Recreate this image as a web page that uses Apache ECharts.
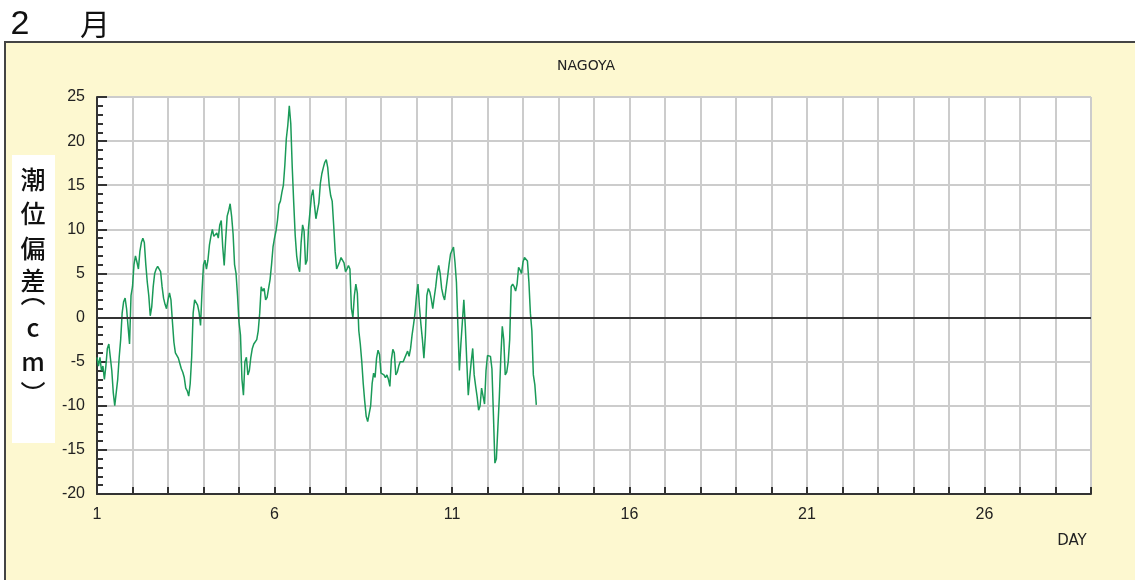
<!DOCTYPE html>
<html><head><meta charset="utf-8">
<script src="https://cdn.jsdelivr.net/npm/echarts@6/dist/echarts.min.js"></script>
<style>html,body{margin:0;padding:0;background:#fff;}#c{width:1135px;height:580px;}</style>
</head><body><div id="c"></div>
<script>
// Hourly tide deviation (cm), NAGOYA, February, starting day 1 00:00
const day01 = [-4.5,-5.5,-4.5,-6,-5.5,-7,-5.5,-3.5,-3,-4.5,-6,-8.5,-10,-8.5,-7,-4.5,-2.5,0.5,1.8,2.2,1,-1,-3,2.5];
const day02 = [3.5,6,7,6.3,5.5,7.5,8.5,9,8.5,6,4,2.5,0.2,1.2,3.5,5,5.5,5.8,5.8,5.2,3.5,2.2,1.5,1];
const day03 = [2,2.8,2,-0.5,-2.8,-4,-4.2,-4.6,-5.2,-5.8,-6.2,-6.8,-8,-8.3,-8.9,-7.5,-4.5,0.5,2,2,1.4,0.6,-0.9,3];
const day04 = [6,6.5,5.5,6.5,8.2,9.2,10,9.2,9.3,9.6,9,10.5,11,8,5.9,8.9,11.5,12.1,12.9,11.5,9.5,6,5,2.5];
const day05 = [-0.5,-2,-7,-8.8,-5,-4.5,-6.5,-6,-4.5,-3.5,-3,-3,-2.5,-1.5,0.5,3.5,3,3.3,2,2.3,3.3,4.3,6,8];
const day06 = [9,9.8,11,12.8,13.2,14.2,15,17.3,20.3,21.8,24,22,17,13,9.3,7,5.8,5.2,8.5,10.5,9.8,6,6.5,10.2];
const day07 = [12,13.8,14.5,12.8,11.2,11.2,13,15.2,16.3,17,17.6,17.9,17,15,13.8,13.2,10.5,7.5,5.5,5.9,6.3,6.8,7,6.2];
const day08 = [5.2,5.5,5.9,5.5,1,0,2.5,3.8,2.8,-1.5,-3,-5,-7.5,-9.5,-11.2,-11.8,-12,-10,-7.5,-6.3,-6.8,-4.6,-3.7,-4.2];
const day09 = [-6.3,-6.2,-6.5,-6.8,-6.5,-7,-7.8,-4.8,-3.6,-4,-6.5,-6.2,-5.5,-5,-5,-5,-4.6,-4.6,-3.8,-4.4,-3.5,-2,-0.8,0.5];
const day10 = [2.5,3.8,1.2,-0.8,-2.5,-4.6,-2,2.5,3.3,2.9,2.1,1,2.3,3.5,5,5.9,5,3.3,2.5,2,3.3,4.6,6,7.2];
const day11 = [7.6,8,6.3,4,-1,-6,-3,-0.5,2,-1,-5,-8.8,-6.8,-5,-3.5,-6.5,-7.8,-9,-10.5,-10,-8,-8,-9.8,-6];
const day12 = [-4.3,-4.2,-4.4,-5.8,-11,-16.5,-16,-12.5,-9,-4.5,-1,-2.5,-6.5,-6.2,-5,-2.5,3.5,3.8,3.5,3,3.8,5.7,5.4,5];
const day13 = [6.3,6.8,6.8,6.4,4,0.5,-1.5,-6.5,-7.6,-9.9];

const days = [day01,day02,day03,day04,day05,day06,day07,day08,day09,day10,day11,day12,day13];
const xLabelDays = [1,6,11,16,21,26];
const yTicks = [-20,-15,-10,-5,0,5,10,15,20,25];
const monthTitle = ['2','月'];
const yTitleChars = ['潮','位','偏','差','︵','c','m','︶'];
const stationName = 'NAGOYA';
const xUnit = 'DAY';

const seriesData = [];
days.forEach((arr, d) => arr.forEach((v, h) => seriesData.push([1 + d + h / 24, v])));

const chart = echarts.init(document.getElementById('c'));
const font = 'Liberation Sans, Arial, sans-serif';
const yCharPos = [179, 213, 248, 280, 293, 327, 361, 393];
const graphics = [
  {type:'rect', z:-10, shape:{x:5,y:42,width:1140,height:560}, style:{fill:'#fdf8d0', stroke:'#444', lineWidth:2}},
  {type:'text', x:20, y:25, style:{text:monthTitle[0], font:'34px ' + font, fill:'#111', align:'center', verticalAlign:'middle'}},
  {type:'text', x:95, y:24, style:{text:monthTitle[1], font:'30px "Noto Sans CJK JP", sans-serif', fill:'#111', align:'center', verticalAlign:'middle'}},
  {type:'rect', z:-5, shape:{x:12,y:155,width:43,height:288}, style:{fill:'#fff'}},
  {type:'text', x:586, y:66, style:{text:stationName, font:'14px DejaVu Sans, sans-serif', fill:'#222', align:'center', verticalAlign:'middle'}},
  {type:'text', x:1072, y:541, style:{text:xUnit, font:'15px DejaVu Sans, sans-serif', fill:'#222', align:'center', verticalAlign:'middle'}}
];
yTitleChars.forEach((ch, i) => {
  graphics.push({type:'text', x:33, y:yCharPos[i], style:{text:ch, font:'500 25px "Noto Sans CJK JP", sans-serif', fill:'#111', align:'center', verticalAlign:'middle'}});
});

chart.setOption({
  animation:false,
  backgroundColor:'#fff',
  graphic: graphics,
  grid:{left:97, top:97, right:44, bottom:86, show:true, backgroundColor:'#fff', borderWidth:0},
  xAxis:{
    type:'value', min:1, max:29, interval:1,
    axisLine:{show:true, onZero:false, lineStyle:{color:'#333', width:2}},
    axisTick:{show:true, inside:true, length:7, lineStyle:{color:'#333', width:2}},
    axisLabel:{formatter:v => xLabelDays.includes(v) ? String(v) : '', color:'#222', fontSize:16, fontFamily:font, margin:13, showMaxLabel:true},
    splitLine:{show:true, lineStyle:{color:'#cccccc', width:2}}
  },
  yAxis:{
    type:'value', min:yTicks[0], max:yTicks[yTicks.length-1], interval:5,
    axisLine:{show:true, onZero:false, lineStyle:{color:'#333', width:2}},
    axisTick:{show:true, inside:true, length:10, lineStyle:{color:'#333', width:2}},
    minorTick:{show:true, splitNumber:5, length:6, lineStyle:{color:'#333', width:2}},
    axisLabel:{color:'#222', fontSize:16, fontFamily:font, margin:12},
    splitLine:{show:true, lineStyle:{color:'#cccccc', width:2}}
  },
  series:[{
    type:'line', data:seriesData, showSymbol:false, symbol:'none',
    lineStyle:{color:'#1a9a58', width:1.5},
    markLine:{silent:true, symbol:'none', label:{show:false}, lineStyle:{color:'#333', width:2, type:'solid'}, data:[{yAxis:0}]},
    z:3
  }]
});
</script></body></html>
